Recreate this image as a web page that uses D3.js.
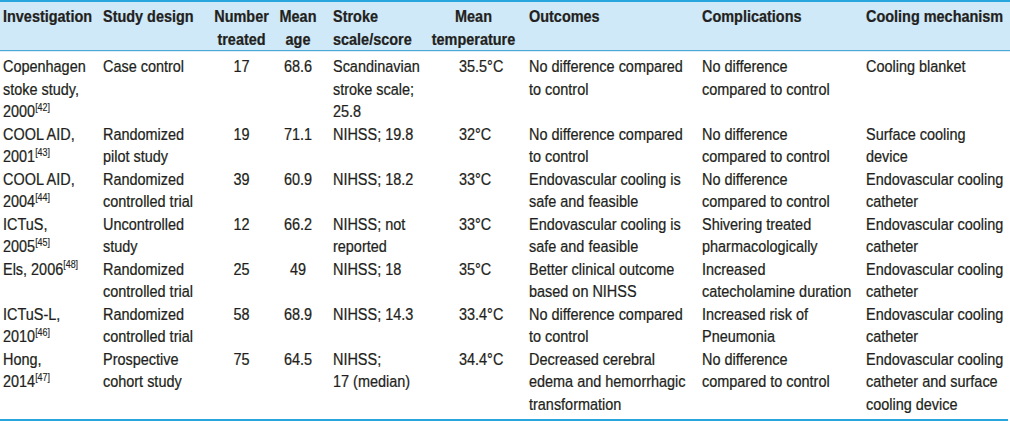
<!DOCTYPE html>
<html>
<head>
<meta charset="utf-8">
<script src="https://cdn.jsdelivr.net/npm/d3@7"></script>
<style>
  html, body { margin: 0; padding: 0; background: #ffffff; }
  svg { display: block; }
  text { font-family: "Liberation Sans", Arial, sans-serif; fill: #231f20; stroke: #231f20; stroke-width: 0.25px; }
</style>
</head>
<body>
<svg id="chart" width="1010" height="423"></svg>
<script>
// ---- data ----
const headers = ["Investigation", "Study design", "Number\ntreated", "Mean\nage", "Stroke\nscale/score", "Mean\ntemperature", "Outcomes", "Complications", "Cooling mechanism"];
const investigations = ["Copenhagen\nstoke study,\n2000", "COOL AID,\n2001", "COOL AID,\n2004", "ICTuS,\n2005", "Els, 2006", "ICTuS-L,\n2010", "Hong,\n2014"];
const refs = ["42", "43", "44", "45", "48", "46", "47"];
const designs = ["Case control", "Randomized\npilot study", "Randomized\ncontrolled trial", "Uncontrolled\nstudy", "Randomized\ncontrolled trial", "Randomized\ncontrolled trial", "Prospective\ncohort study"];
const numberTreated = [17, 19, 39, 12, 25, 58, 75];
const meanAge = [68.6, 71.1, 60.9, 66.2, 49, 68.9, 64.5];
const strokeScales = ["Scandinavian\nstroke scale;\n25.8", "NIHSS; 19.8", "NIHSS; 18.2", "NIHSS; not\nreported", "NIHSS; 18", "NIHSS; 14.3", "NIHSS;\n17 (median)"];
const meanTemps = [35.5, 32, 33, 33, 35, 33.4, 34.4];
const outcomes = ["No difference compared\nto control", "No difference compared\nto control", "Endovascular cooling is\nsafe and feasible", "Endovascular cooling is\nsafe and feasible", "Better clinical outcome\nbased on NIHSS", "No difference compared\nto control", "Decreased cerebral\nedema and hemorrhagic\ntransformation"];
const complications = ["No difference\ncompared to control", "No difference\ncompared to control", "No difference\ncompared to control", "Shivering treated\npharmacologically", "Increased\ncatecholamine duration", "Increased risk of\nPneumonia", "No difference\ncompared to control"];
const mechanisms = ["Cooling blanket", "Surface cooling\ndevice", "Endovascular cooling\ncatheter", "Endovascular cooling\ncatheter", "Endovascular cooling\ncatheter", "Endovascular cooling\ncatheter", "Endovascular cooling\ncatheter and surface\ncooling device"];

// ---- layout ----
const W = 1010, H = 423;
const svg = d3.select("#chart");
const fontSize = 17;
const squeeze = 0.85; // condensed face emulation

const columns = [
  { x: 3,     anchor: "start",  hx: 3,     hanchor: "start",  get: i => investigations[i], ref: true },
  { x: 103,   anchor: "start",  hx: 103,   hanchor: "start",  get: i => designs[i] },
  { x: 241.5, anchor: "middle", hx: 241.5, hanchor: "middle", get: i => String(numberTreated[i]) },
  { x: 298,   anchor: "middle", hx: 298,   hanchor: "middle", get: i => String(meanAge[i]) },
  { x: 333,   anchor: "start",  hx: 333,   hanchor: "start",  get: i => strokeScales[i] },
  { x: 459,   anchor: "start",  hx: 473.5, hanchor: "middle", get: i => meanTemps[i] + "\u00B0C" },
  { x: 529,   anchor: "start",  hx: 529,   hanchor: "start",  get: i => outcomes[i] },
  { x: 702,   anchor: "start",  hx: 702,   hanchor: "start",  get: i => complications[i] },
  { x: 866,   anchor: "start",  hx: 866,   hanchor: "start",  get: i => mechanisms[i] }
];

const nRows = investigations.length;
const rowLines = d3.range(nRows).map(i => d3.max(columns, c => c.get(i).split("\n").length));
const rowStart = [];
rowLines.reduce((acc, n, i) => { rowStart[i] = acc; return acc + n; }, 0);
const totalLines = d3.sum(rowLines);

// scale mapping body line index to baseline y
const yLine = d3.scaleLinear().domain([0, totalLines - 1]).range([72, 410]);
const yHead = d3.scaleLinear().domain([0, 1]).range([22, 45]);

// header background & rules
svg.append("rect").attr("x", 0).attr("y", 0).attr("width", W).attr("height", 50).attr("fill", "#cfe9f8");
svg.append("rect").attr("x", 0).attr("y", 0).attr("width", W).attr("height", 2).attr("fill", "#27a6de");
svg.append("rect").attr("x", 0).attr("y", 50).attr("width", W).attr("height", 1.2).attr("fill", "#4aa9d9");
svg.append("rect").attr("x", 0).attr("y", 419).attr("width", W - 2).attr("height", 2).attr("fill", "#27a6de");

function place(sel, x, y) {
  return sel.attr("transform", `translate(${x},${y}) scale(${squeeze},1)`);
}

// headers
const hg = svg.append("g");
headers.forEach((h, ci) => {
  const c = columns[ci];
  h.split("\n").forEach((ln, k) => {
    place(hg.append("text"), c.hx, yHead(k))
      .attr("text-anchor", c.hanchor)
      .attr("font-size", fontSize)
      .attr("font-weight", "bold")
      .text(ln);
  });
});

// body cells
const bg = svg.append("g");
d3.range(nRows).forEach(i => {
  columns.forEach(c => {
    const lines = c.get(i).split("\n");
    lines.forEach((ln, k) => {
      const t = place(bg.append("text"), c.x, yLine(rowStart[i] + k))
        .attr("text-anchor", c.anchor)
        .attr("font-size", fontSize);
      t.append("tspan").text(ln);
      if (c.ref && k === lines.length - 1) {
        t.append("tspan")
          .attr("font-size", 10.5)
          .attr("dy", -6.5)
          .style("stroke-width", "0.15px")
          .text("[" + refs[i] + "]");
      }
    });
  });
});
</script>
</body>
</html>
